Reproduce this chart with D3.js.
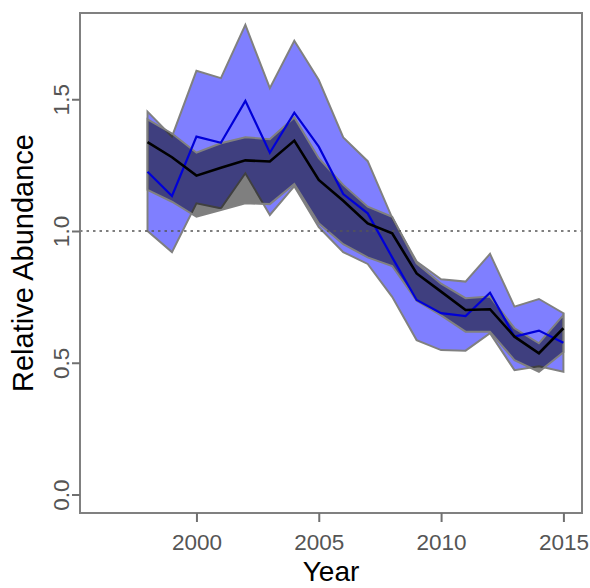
<!DOCTYPE html>
<html>
<head>
<meta charset="utf-8">
<script src="https://cdn.jsdelivr.net/npm/d3@7"></script>
<style>
  html, body { margin: 0; padding: 0; background: #fff; }
  svg { display: block; }
  text { font-family: "Liberation Sans", Arial, sans-serif; }
</style>
</head>
<body>
<svg id="chart" width="590" height="588"></svg>
<script>
const years = [1998,1999,2000,2001,2002,2003,2004,2005,2006,2007,2008,2009,2010,2011,2012,2013,2014,2015];
const blueMean  = [1.225,1.133,1.358,1.335,1.494,1.297,1.449,1.32,1.14,1.067,0.90,0.738,0.688,0.677,0.766,0.599,0.622,0.576];
const blueUpper = [1.453,1.358,1.608,1.58,1.782,1.542,1.722,1.573,1.355,1.265,1.05,0.884,0.817,0.808,0.913,0.713,0.742,0.688];
const blueLower = [1.0,0.92,1.105,1.086,1.219,1.061,1.17,1.015,0.92,0.875,0.75,0.586,0.548,0.546,0.612,0.472,0.487,0.466];
const blackMean  = [1.337,1.28,1.21,1.24,1.268,1.264,1.343,1.194,1.115,1.029,0.991,0.839,0.77,0.70,0.703,0.599,0.536,0.631];
const blackUpper = [1.424,1.37,1.297,1.333,1.356,1.348,1.431,1.276,1.175,1.092,1.054,0.877,0.80,0.745,0.751,0.631,0.574,0.681];
const blackLower = [1.156,1.111,1.054,1.08,1.105,1.102,1.178,1.029,0.95,0.90,0.867,0.735,0.68,0.618,0.618,0.51,0.466,0.54];
const xTicks = [2000,2005,2010,2015];
const yTicks = [0,0.5,1.0,1.5];
const refLevel = 1.0;
const xLabel = "Year";
const yLabel = "Relative Abundance";

const svg = d3.select("#chart");
const L = 80, R = 582, T = 13, B = 513;
const x = d3.scaleLinear().domain([1995.24, 2015.76]).range([L, R]);
const y = d3.scaleLinear().domain([-0.0702, 1.8273]).range([B, T]);

const blueData = years.map((yr,i)=>({yr, m:blueMean[i], lo:blueLower[i], hi:blueUpper[i]}));
const blackData = years.map((yr,i)=>({yr, m:blackMean[i], lo:blackLower[i], hi:blackUpper[i]}));

const area = d3.area().x(d=>x(d.yr)).y0(d=>y(d.lo)).y1(d=>y(d.hi));
const line = d3.line().x(d=>x(d.yr)).y(d=>y(d.m));

// bands
svg.append("path").datum(blueData).attr("d", area)
  .attr("fill", "rgba(0,0,255,0.5)").attr("stroke", "#808080").attr("stroke-width", 2).attr("stroke-linejoin","miter");
svg.append("path").datum(blackData).attr("d", area)
  .attr("fill", "rgba(0,0,0,0.5)").attr("stroke", "#808080").attr("stroke-width", 2).attr("stroke-linejoin","miter");

// reference line
svg.append("line").attr("x1", L).attr("x2", R).attr("y1", y(refLevel)).attr("y2", y(refLevel))
  .attr("stroke", "#555").attr("stroke-width", 1.6).attr("stroke-dasharray", "2.5,4");

// mean lines
svg.append("path").datum(blueData).attr("d", line)
  .attr("fill", "none").attr("stroke", "#0000d8").attr("stroke-width", 2.2);
svg.append("path").datum(blackData).attr("d", line)
  .attr("fill", "none").attr("stroke", "#000").attr("stroke-width", 2.6);

// box
svg.append("rect").attr("x", L).attr("y", T).attr("width", R-L).attr("height", B-T)
  .attr("fill", "none").attr("stroke", "#808080").attr("stroke-width", 2);

// axes
const gx = svg.append("g").attr("transform", `translate(0,${B})`)
  .call(d3.axisBottom(x).tickValues(xTicks).tickFormat(d3.format("d")).tickSize(9).tickPadding(12));
gx.select(".domain").remove();
gx.selectAll(".tick line").attr("stroke", "#707070").attr("stroke-width", 2);
gx.selectAll(".tick text").attr("fill", "#555").style("font-size", "22.5px");

const gy = svg.append("g").attr("transform", `translate(${L},0)`)
  .call(d3.axisLeft(y).tickValues(yTicks).tickFormat(d3.format(".1f")).tickSize(8));
gy.select(".domain").remove();
gy.selectAll(".tick line").attr("stroke", "#707070").attr("stroke-width", 2);
gy.selectAll(".tick text")
  .attr("fill", "#555").style("font-size", "22.5px")
  .attr("x", 0).attr("dy", null)
  .attr("text-anchor", "middle")
  .attr("transform", "translate(-11,0) rotate(-90)");

// axis titles
svg.append("text").attr("x", (L+R)/2).attr("y", 581).attr("text-anchor", "middle")
  .style("font-size", "28px").attr("fill", "#000").text(xLabel);
svg.append("text").attr("transform", `translate(33,${(T+B)/2}) rotate(-90)`)
  .attr("text-anchor", "middle").style("font-size", "29px").attr("fill", "#000").text(yLabel);
</script>
</body>
</html>
